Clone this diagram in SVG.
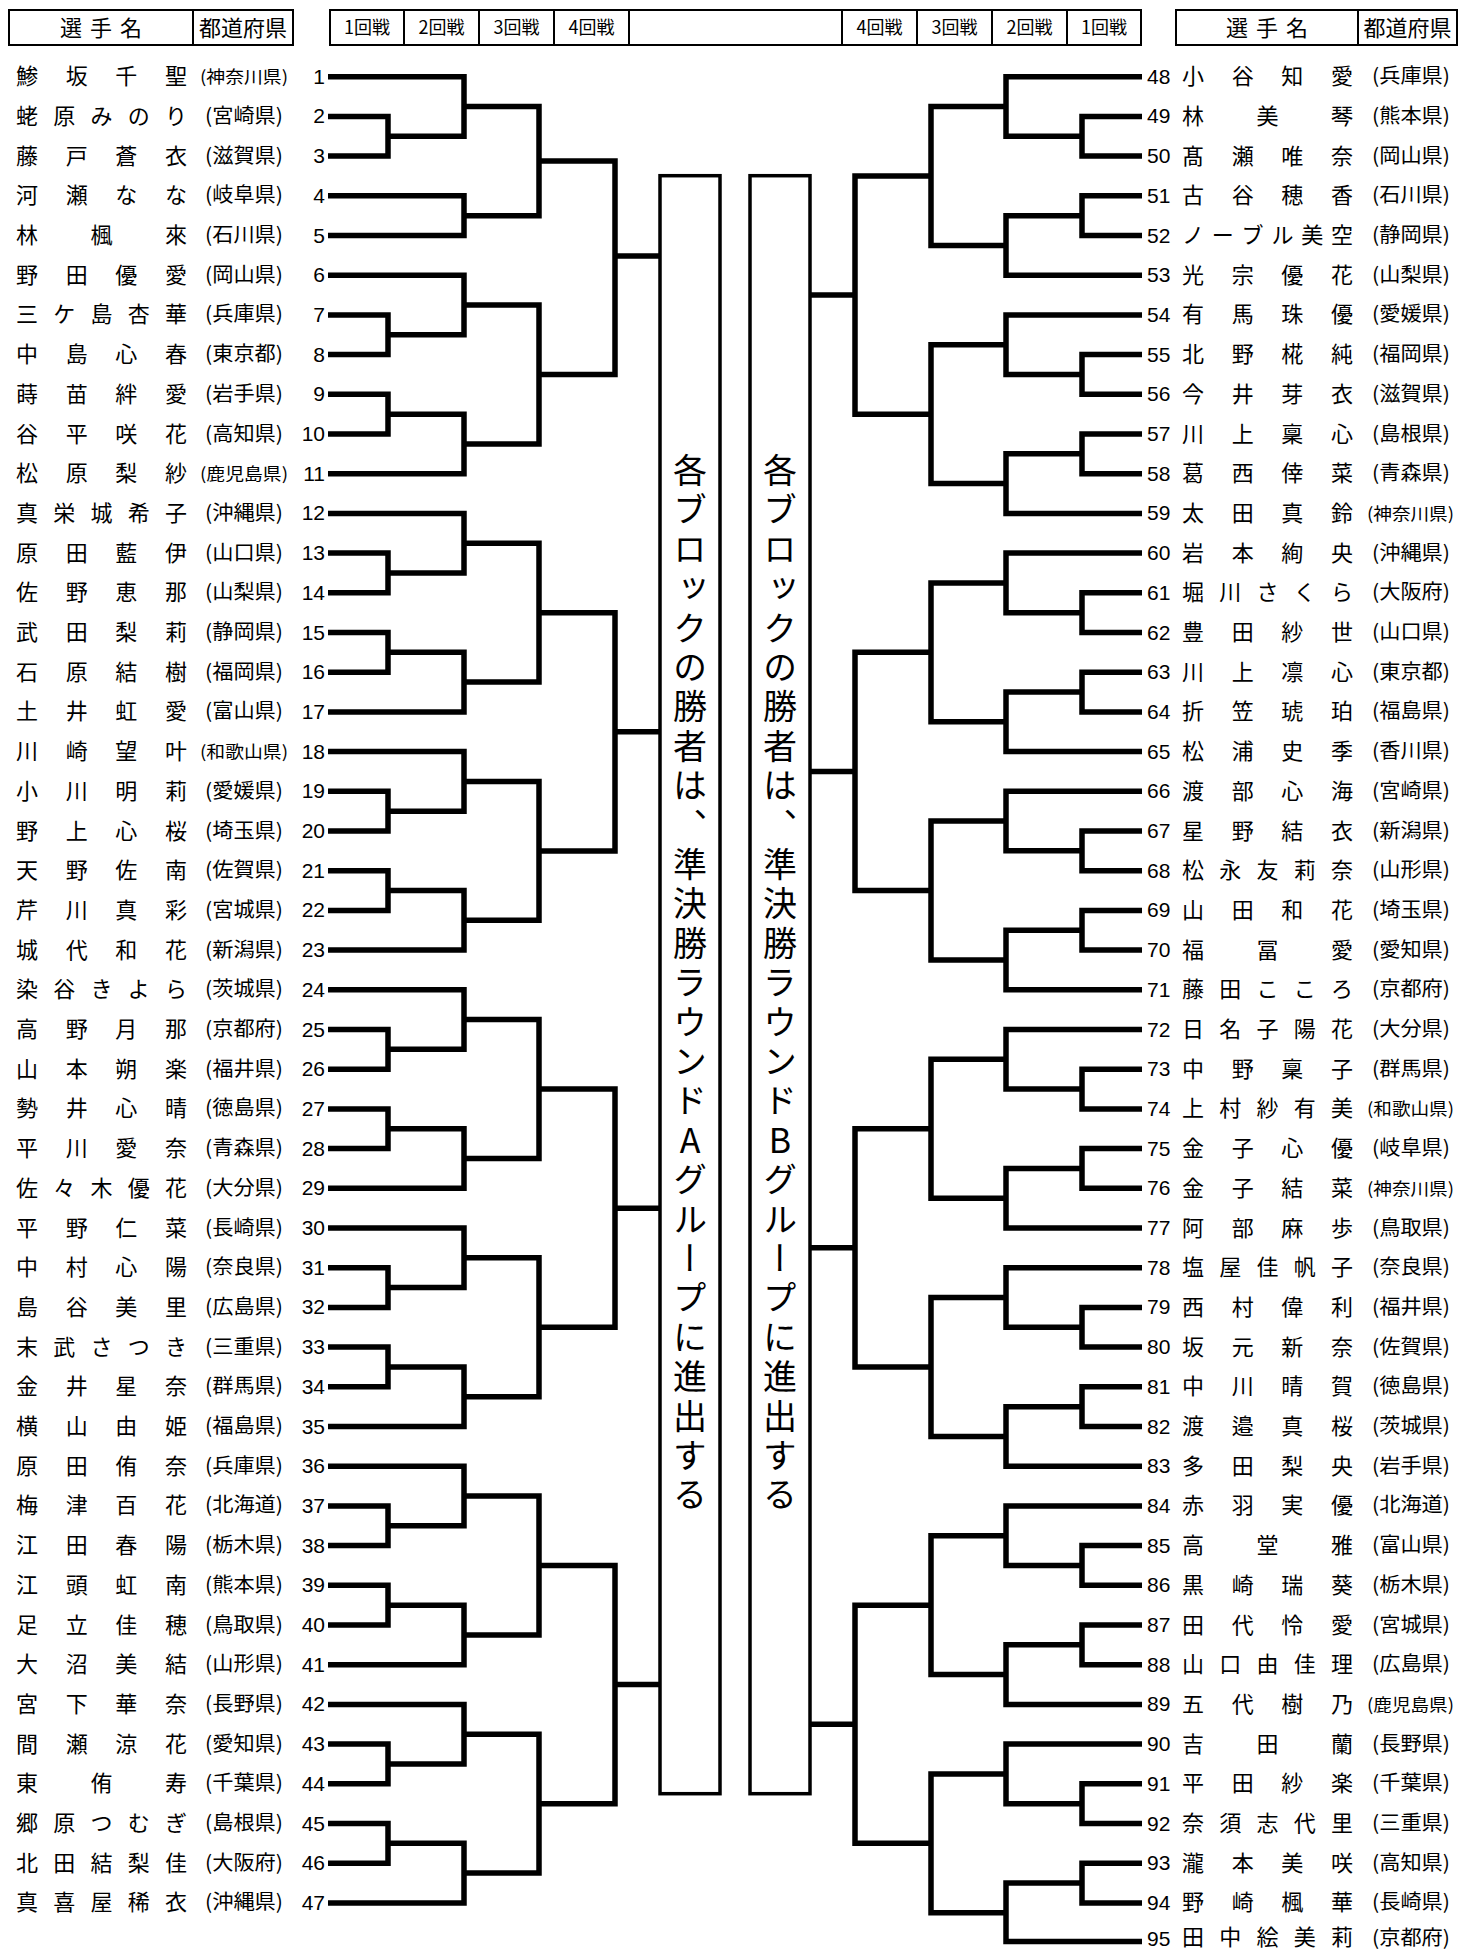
<svg xmlns="http://www.w3.org/2000/svg" width="1459" height="1952" viewBox="0 0 1459 1952">
<style>
.bg{fill:#fff}
.hd{fill:none;stroke:#000;stroke-width:2}
.ht{font-family:"Noto Sans CJK JP",sans-serif;font-size:22px;text-anchor:middle}
.rt{font-family:"Noto Sans CJK JP",sans-serif;font-size:18px;text-anchor:middle}
.ln{fill:none;stroke:#000;stroke-width:5.5;stroke-linejoin:miter}
.bx{fill:#fff;stroke:#000;stroke-width:3.5}
.vt{font-family:"Noto Sans CJK JP",sans-serif;font-size:34px;writing-mode:vertical-rl;text-orientation:upright;letter-spacing:5.4px}
.nm{font-family:"Noto Sans CJK JP",sans-serif;font-size:22px;text-anchor:middle}
.pf{font-family:"Noto Sans CJK JP",sans-serif;font-size:20px}
.s{font-size:17px}
.nl,.nr{font-family:"Liberation Sans",sans-serif;font-size:21px}
.nl{text-anchor:end}
</style>
<rect class="bg" x="0" y="0" width="1459" height="1952"/>
<g id="header">
<rect class="hd" x="9" y="10" width="284" height="35"/>
<line class="hd" x1="193" y1="10" x2="193" y2="45"/>
<text class="ht" x="71 101 131" y="35.5">選手名</text>
<text class="ht" x="243" y="35.5">都道府県</text>
<rect class="hd" x="330" y="10" width="811" height="35"/>
<line class="hd" x1="404" y1="10" x2="404" y2="45"/>
<line class="hd" x1="479" y1="10" x2="479" y2="45"/>
<line class="hd" x1="554" y1="10" x2="554" y2="45"/>
<line class="hd" x1="629" y1="10" x2="629" y2="45"/>
<line class="hd" x1="842" y1="10" x2="842" y2="45"/>
<line class="hd" x1="917" y1="10" x2="917" y2="45"/>
<line class="hd" x1="992" y1="10" x2="992" y2="45"/>
<line class="hd" x1="1067" y1="10" x2="1067" y2="45"/>
<text class="rt" x="367" y="34">1回戦</text>
<text class="rt" x="441.5" y="34">2回戦</text>
<text class="rt" x="516.5" y="34">3回戦</text>
<text class="rt" x="591.5" y="34">4回戦</text>
<text class="rt" x="879.5" y="34">4回戦</text>
<text class="rt" x="954.5" y="34">3回戦</text>
<text class="rt" x="1029.5" y="34">2回戦</text>
<text class="rt" x="1104" y="34">1回戦</text>
<rect class="hd" x="1176" y="10" width="281" height="35"/>
<line class="hd" x1="1358" y1="10" x2="1358" y2="45"/>
<text class="ht" x="1237 1267 1297" y="35.5">選手名</text>
<text class="ht" x="1407.5" y="35.5">都道府県</text>
</g>
<g id="connectors">
<path class="ln" d="M328 76.7H464V136.25H388M328 116.4H388V156.1H328M464 106.5H539V215.65H464M328 195.8H464V235.5H328M539 161.1H615V374.5H539M328 275.2H464V334.75H388M328 314.9H388V354.6H328M464 305H539V443.9H464M328 394.3H388V434H328M388 414.15H464V473.7H328M615 256H660"/>
<path class="ln" d="M328 513.4H464V572.95H388M328 553.1H388V592.8H328M464 543.2H539V682.1H464M328 632.5H388V672.2H328M388 652.35H464V711.9H328M539 612.65H615V850.9H539M328 751.6H464V811.15H388M328 791.3H388V831H328M464 781.4H539V920.3H464M328 870.7H388V910.4H328M388 890.55H464V950.1H328M615 731.8H660"/>
<path class="ln" d="M328 989.8H464V1049.35H388M328 1029.5H388V1069.2H328M464 1019.6H539V1158.5H464M328 1108.9H388V1148.6H328M388 1128.75H464V1188.3H328M539 1089.1H615V1327.3H539M328 1228H464V1287.55H388M328 1267.7H388V1307.4H328M464 1257.8H539V1396.7H464M328 1347.1H388V1386.8H328M388 1366.95H464V1426.5H328M615 1208.2H660"/>
<path class="ln" d="M328 1466.2H464V1525.75H388M328 1505.9H388V1545.6H328M464 1496H539V1634.9H464M328 1585.3H388V1625H328M388 1605.15H464V1664.7H328M539 1565.5H615V1803.7H539M328 1704.4H464V1763.95H388M328 1744.1H388V1783.8H328M464 1734.2H539V1873.1H464M328 1823.5H388V1863.2H328M388 1843.35H464V1902.9H328M615 1684.6H660"/>
<path class="ln" d="M1142 76.7H1006V136.25H1082M1142 116.4H1082V156.1H1142M1006 106.5H931V245.4H1006M1142 195.8H1082V235.5H1142M1082 215.65H1006V275.2H1142M931 175.95H855V414.15H931M1142 314.9H1006V374.45H1082M1142 354.6H1082V394.3H1142M1006 344.7H931V483.6H1006M1142 434H1082V473.7H1142M1082 453.85H1006V513.4H1142M855 295.05H810"/>
<path class="ln" d="M1142 553.1H1006V612.65H1082M1142 592.8H1082V632.5H1142M1006 582.9H931V721.8H1006M1142 672.2H1082V711.9H1142M1082 692.05H1006V751.6H1142M931 652.35H855V890.55H931M1142 791.3H1006V850.85H1082M1142 831H1082V870.7H1142M1006 821.1H931V960H1006M1142 910.4H1082V950.1H1142M1082 930.25H1006V989.8H1142M855 771.45H810"/>
<path class="ln" d="M1142 1029.5H1006V1089.05H1082M1142 1069.2H1082V1108.9H1142M1006 1059.3H931V1198.2H1006M1142 1148.6H1082V1188.3H1142M1082 1168.45H1006V1228H1142M931 1128.75H855V1366.95H931M1142 1267.7H1006V1327.25H1082M1142 1307.4H1082V1347.1H1142M1006 1297.5H931V1436.4H1006M1142 1386.8H1082V1426.5H1142M1082 1406.65H1006V1466.2H1142M855 1247.85H810"/>
<path class="ln" d="M1142 1505.9H1006V1565.45H1082M1142 1545.6H1082V1585.3H1142M1006 1535.7H931V1674.6H1006M1142 1625H1082V1664.7H1142M1082 1644.85H1006V1704.4H1142M931 1605.15H855V1843.35H931M1142 1744.1H1006V1803.65H1082M1142 1783.8H1082V1823.5H1142M1006 1773.9H931V1912.8H1006M1142 1863.2H1082V1902.9H1142M1082 1883.05H1006V1941.5H1142M855 1724.25H810"/>
</g>
<g id="groupA">
<rect class="bx" x="660" y="175.7" width="60" height="1618"/>
<text class="vt" x="690" y="453">各ブロックの勝者は、準決勝ラウンドAグループに進出する</text>
</g>
<g id="groupB">
<rect class="bx" x="750" y="175.7" width="60" height="1618"/>
<text class="vt" x="780" y="453">各ブロックの勝者は、準決勝ラウンドBグループに進出する</text>
</g>
<g id="p1" transform="translate(0 76.7)"><text class="nm" x="27 76.7 126.3 176" y="7.5">鯵坂千聖</text><text class="pf s" x="200" y="6.5" textLength="88" lengthAdjust="spacingAndGlyphs">(神奈川県)</text><text class="nl" x="325" y="7">1</text></g>
<g id="p2" transform="translate(0 116.4)"><text class="nm" x="27 64.25 101.5 138.75 176" y="7.5">蛯原みのり</text><text class="pf" x="205" y="6.5" textLength="78" lengthAdjust="spacingAndGlyphs">(宮崎県)</text><text class="nl" x="325" y="7">2</text></g>
<g id="p3" transform="translate(0 156.1)"><text class="nm" x="27 76.7 126.3 176" y="7.5">藤戸蒼衣</text><text class="pf" x="205" y="6.5" textLength="78" lengthAdjust="spacingAndGlyphs">(滋賀県)</text><text class="nl" x="325" y="7">3</text></g>
<g id="p4" transform="translate(0 195.8)"><text class="nm" x="27 76.7 126.3 176" y="7.5">河瀬なな</text><text class="pf" x="205" y="6.5" textLength="78" lengthAdjust="spacingAndGlyphs">(岐阜県)</text><text class="nl" x="325" y="7">4</text></g>
<g id="p5" transform="translate(0 235.5)"><text class="nm" x="27 101.5 176" y="7.5">林楓來</text><text class="pf" x="205" y="6.5" textLength="78" lengthAdjust="spacingAndGlyphs">(石川県)</text><text class="nl" x="325" y="7">5</text></g>
<g id="p6" transform="translate(0 275.2)"><text class="nm" x="27 76.7 126.3 176" y="7.5">野田優愛</text><text class="pf" x="205" y="6.5" textLength="78" lengthAdjust="spacingAndGlyphs">(岡山県)</text><text class="nl" x="325" y="7">6</text></g>
<g id="p7" transform="translate(0 314.9)"><text class="nm" x="27 64.25 101.5 138.75 176" y="7.5">三ケ島杏華</text><text class="pf" x="205" y="6.5" textLength="78" lengthAdjust="spacingAndGlyphs">(兵庫県)</text><text class="nl" x="325" y="7">7</text></g>
<g id="p8" transform="translate(0 354.6)"><text class="nm" x="27 76.7 126.3 176" y="7.5">中島心春</text><text class="pf" x="205" y="6.5" textLength="78" lengthAdjust="spacingAndGlyphs">(東京都)</text><text class="nl" x="325" y="7">8</text></g>
<g id="p9" transform="translate(0 394.3)"><text class="nm" x="27 76.7 126.3 176" y="7.5">蒔苗絆愛</text><text class="pf" x="205" y="6.5" textLength="78" lengthAdjust="spacingAndGlyphs">(岩手県)</text><text class="nl" x="325" y="7">9</text></g>
<g id="p10" transform="translate(0 434)"><text class="nm" x="27 76.7 126.3 176" y="7.5">谷平咲花</text><text class="pf" x="205" y="6.5" textLength="78" lengthAdjust="spacingAndGlyphs">(高知県)</text><text class="nl" x="325" y="7">10</text></g>
<g id="p11" transform="translate(0 473.7)"><text class="nm" x="27 76.7 126.3 176" y="7.5">松原梨紗</text><text class="pf s" x="200" y="6.5" textLength="88" lengthAdjust="spacingAndGlyphs">(鹿児島県)</text><text class="nl" x="325" y="7">11</text></g>
<g id="p12" transform="translate(0 513.4)"><text class="nm" x="27 64.25 101.5 138.75 176" y="7.5">真栄城希子</text><text class="pf" x="205" y="6.5" textLength="78" lengthAdjust="spacingAndGlyphs">(沖縄県)</text><text class="nl" x="325" y="7">12</text></g>
<g id="p13" transform="translate(0 553.1)"><text class="nm" x="27 76.7 126.3 176" y="7.5">原田藍伊</text><text class="pf" x="205" y="6.5" textLength="78" lengthAdjust="spacingAndGlyphs">(山口県)</text><text class="nl" x="325" y="7">13</text></g>
<g id="p14" transform="translate(0 592.8)"><text class="nm" x="27 76.7 126.3 176" y="7.5">佐野恵那</text><text class="pf" x="205" y="6.5" textLength="78" lengthAdjust="spacingAndGlyphs">(山梨県)</text><text class="nl" x="325" y="7">14</text></g>
<g id="p15" transform="translate(0 632.5)"><text class="nm" x="27 76.7 126.3 176" y="7.5">武田梨莉</text><text class="pf" x="205" y="6.5" textLength="78" lengthAdjust="spacingAndGlyphs">(静岡県)</text><text class="nl" x="325" y="7">15</text></g>
<g id="p16" transform="translate(0 672.2)"><text class="nm" x="27 76.7 126.3 176" y="7.5">石原結樹</text><text class="pf" x="205" y="6.5" textLength="78" lengthAdjust="spacingAndGlyphs">(福岡県)</text><text class="nl" x="325" y="7">16</text></g>
<g id="p17" transform="translate(0 711.9)"><text class="nm" x="27 76.7 126.3 176" y="7.5">土井虹愛</text><text class="pf" x="205" y="6.5" textLength="78" lengthAdjust="spacingAndGlyphs">(富山県)</text><text class="nl" x="325" y="7">17</text></g>
<g id="p18" transform="translate(0 751.6)"><text class="nm" x="27 76.7 126.3 176" y="7.5">川崎望叶</text><text class="pf s" x="200" y="6.5" textLength="88" lengthAdjust="spacingAndGlyphs">(和歌山県)</text><text class="nl" x="325" y="7">18</text></g>
<g id="p19" transform="translate(0 791.3)"><text class="nm" x="27 76.7 126.3 176" y="7.5">小川明莉</text><text class="pf" x="205" y="6.5" textLength="78" lengthAdjust="spacingAndGlyphs">(愛媛県)</text><text class="nl" x="325" y="7">19</text></g>
<g id="p20" transform="translate(0 831)"><text class="nm" x="27 76.7 126.3 176" y="7.5">野上心桜</text><text class="pf" x="205" y="6.5" textLength="78" lengthAdjust="spacingAndGlyphs">(埼玉県)</text><text class="nl" x="325" y="7">20</text></g>
<g id="p21" transform="translate(0 870.7)"><text class="nm" x="27 76.7 126.3 176" y="7.5">天野佐南</text><text class="pf" x="205" y="6.5" textLength="78" lengthAdjust="spacingAndGlyphs">(佐賀県)</text><text class="nl" x="325" y="7">21</text></g>
<g id="p22" transform="translate(0 910.4)"><text class="nm" x="27 76.7 126.3 176" y="7.5">芹川真彩</text><text class="pf" x="205" y="6.5" textLength="78" lengthAdjust="spacingAndGlyphs">(宮城県)</text><text class="nl" x="325" y="7">22</text></g>
<g id="p23" transform="translate(0 950.1)"><text class="nm" x="27 76.7 126.3 176" y="7.5">城代和花</text><text class="pf" x="205" y="6.5" textLength="78" lengthAdjust="spacingAndGlyphs">(新潟県)</text><text class="nl" x="325" y="7">23</text></g>
<g id="p24" transform="translate(0 989.8)"><text class="nm" x="27 64.25 101.5 138.75 176" y="7.5">染谷きよら</text><text class="pf" x="205" y="6.5" textLength="78" lengthAdjust="spacingAndGlyphs">(茨城県)</text><text class="nl" x="325" y="7">24</text></g>
<g id="p25" transform="translate(0 1029.5)"><text class="nm" x="27 76.7 126.3 176" y="7.5">高野月那</text><text class="pf" x="205" y="6.5" textLength="78" lengthAdjust="spacingAndGlyphs">(京都府)</text><text class="nl" x="325" y="7">25</text></g>
<g id="p26" transform="translate(0 1069.2)"><text class="nm" x="27 76.7 126.3 176" y="7.5">山本朔楽</text><text class="pf" x="205" y="6.5" textLength="78" lengthAdjust="spacingAndGlyphs">(福井県)</text><text class="nl" x="325" y="7">26</text></g>
<g id="p27" transform="translate(0 1108.9)"><text class="nm" x="27 76.7 126.3 176" y="7.5">勢井心晴</text><text class="pf" x="205" y="6.5" textLength="78" lengthAdjust="spacingAndGlyphs">(徳島県)</text><text class="nl" x="325" y="7">27</text></g>
<g id="p28" transform="translate(0 1148.6)"><text class="nm" x="27 76.7 126.3 176" y="7.5">平川愛奈</text><text class="pf" x="205" y="6.5" textLength="78" lengthAdjust="spacingAndGlyphs">(青森県)</text><text class="nl" x="325" y="7">28</text></g>
<g id="p29" transform="translate(0 1188.3)"><text class="nm" x="27 64.25 101.5 138.75 176" y="7.5">佐々木優花</text><text class="pf" x="205" y="6.5" textLength="78" lengthAdjust="spacingAndGlyphs">(大分県)</text><text class="nl" x="325" y="7">29</text></g>
<g id="p30" transform="translate(0 1228)"><text class="nm" x="27 76.7 126.3 176" y="7.5">平野仁菜</text><text class="pf" x="205" y="6.5" textLength="78" lengthAdjust="spacingAndGlyphs">(長崎県)</text><text class="nl" x="325" y="7">30</text></g>
<g id="p31" transform="translate(0 1267.7)"><text class="nm" x="27 76.7 126.3 176" y="7.5">中村心陽</text><text class="pf" x="205" y="6.5" textLength="78" lengthAdjust="spacingAndGlyphs">(奈良県)</text><text class="nl" x="325" y="7">31</text></g>
<g id="p32" transform="translate(0 1307.4)"><text class="nm" x="27 76.7 126.3 176" y="7.5">島谷美里</text><text class="pf" x="205" y="6.5" textLength="78" lengthAdjust="spacingAndGlyphs">(広島県)</text><text class="nl" x="325" y="7">32</text></g>
<g id="p33" transform="translate(0 1347.1)"><text class="nm" x="27 64.25 101.5 138.75 176" y="7.5">末武さつき</text><text class="pf" x="205" y="6.5" textLength="78" lengthAdjust="spacingAndGlyphs">(三重県)</text><text class="nl" x="325" y="7">33</text></g>
<g id="p34" transform="translate(0 1386.8)"><text class="nm" x="27 76.7 126.3 176" y="7.5">金井星奈</text><text class="pf" x="205" y="6.5" textLength="78" lengthAdjust="spacingAndGlyphs">(群馬県)</text><text class="nl" x="325" y="7">34</text></g>
<g id="p35" transform="translate(0 1426.5)"><text class="nm" x="27 76.7 126.3 176" y="7.5">横山由姫</text><text class="pf" x="205" y="6.5" textLength="78" lengthAdjust="spacingAndGlyphs">(福島県)</text><text class="nl" x="325" y="7">35</text></g>
<g id="p36" transform="translate(0 1466.2)"><text class="nm" x="27 76.7 126.3 176" y="7.5">原田侑奈</text><text class="pf" x="205" y="6.5" textLength="78" lengthAdjust="spacingAndGlyphs">(兵庫県)</text><text class="nl" x="325" y="7">36</text></g>
<g id="p37" transform="translate(0 1505.9)"><text class="nm" x="27 76.7 126.3 176" y="7.5">梅津百花</text><text class="pf" x="205" y="6.5" textLength="78" lengthAdjust="spacingAndGlyphs">(北海道)</text><text class="nl" x="325" y="7">37</text></g>
<g id="p38" transform="translate(0 1545.6)"><text class="nm" x="27 76.7 126.3 176" y="7.5">江田春陽</text><text class="pf" x="205" y="6.5" textLength="78" lengthAdjust="spacingAndGlyphs">(栃木県)</text><text class="nl" x="325" y="7">38</text></g>
<g id="p39" transform="translate(0 1585.3)"><text class="nm" x="27 76.7 126.3 176" y="7.5">江頭虹南</text><text class="pf" x="205" y="6.5" textLength="78" lengthAdjust="spacingAndGlyphs">(熊本県)</text><text class="nl" x="325" y="7">39</text></g>
<g id="p40" transform="translate(0 1625)"><text class="nm" x="27 76.7 126.3 176" y="7.5">足立佳穂</text><text class="pf" x="205" y="6.5" textLength="78" lengthAdjust="spacingAndGlyphs">(鳥取県)</text><text class="nl" x="325" y="7">40</text></g>
<g id="p41" transform="translate(0 1664.7)"><text class="nm" x="27 76.7 126.3 176" y="7.5">大沼美結</text><text class="pf" x="205" y="6.5" textLength="78" lengthAdjust="spacingAndGlyphs">(山形県)</text><text class="nl" x="325" y="7">41</text></g>
<g id="p42" transform="translate(0 1704.4)"><text class="nm" x="27 76.7 126.3 176" y="7.5">宮下華奈</text><text class="pf" x="205" y="6.5" textLength="78" lengthAdjust="spacingAndGlyphs">(長野県)</text><text class="nl" x="325" y="7">42</text></g>
<g id="p43" transform="translate(0 1744.1)"><text class="nm" x="27 76.7 126.3 176" y="7.5">間瀬涼花</text><text class="pf" x="205" y="6.5" textLength="78" lengthAdjust="spacingAndGlyphs">(愛知県)</text><text class="nl" x="325" y="7">43</text></g>
<g id="p44" transform="translate(0 1783.8)"><text class="nm" x="27 101.5 176" y="7.5">東侑寿</text><text class="pf" x="205" y="6.5" textLength="78" lengthAdjust="spacingAndGlyphs">(千葉県)</text><text class="nl" x="325" y="7">44</text></g>
<g id="p45" transform="translate(0 1823.5)"><text class="nm" x="27 64.25 101.5 138.75 176" y="7.5">郷原つむぎ</text><text class="pf" x="205" y="6.5" textLength="78" lengthAdjust="spacingAndGlyphs">(島根県)</text><text class="nl" x="325" y="7">45</text></g>
<g id="p46" transform="translate(0 1863.2)"><text class="nm" x="27 64.25 101.5 138.75 176" y="7.5">北田結梨佳</text><text class="pf" x="205" y="6.5" textLength="78" lengthAdjust="spacingAndGlyphs">(大阪府)</text><text class="nl" x="325" y="7">46</text></g>
<g id="p47" transform="translate(0 1902.9)"><text class="nm" x="27 64.25 101.5 138.75 176" y="7.5">真喜屋稀衣</text><text class="pf" x="205" y="6.5" textLength="78" lengthAdjust="spacingAndGlyphs">(沖縄県)</text><text class="nl" x="325" y="7">47</text></g>
<g id="p48" transform="translate(0 76.7)"><text class="nr" x="1147" y="7">48</text><text class="nm" x="1193 1242.7 1292.3 1342" y="7.5">小谷知愛</text><text class="pf" x="1372" y="6.5" textLength="78" lengthAdjust="spacingAndGlyphs">(兵庫県)</text></g>
<g id="p49" transform="translate(0 116.4)"><text class="nr" x="1147" y="7">49</text><text class="nm" x="1193 1267.5 1342" y="7.5">林美琴</text><text class="pf" x="1372" y="6.5" textLength="78" lengthAdjust="spacingAndGlyphs">(熊本県)</text></g>
<g id="p50" transform="translate(0 156.1)"><text class="nr" x="1147" y="7">50</text><text class="nm" x="1193 1242.7 1292.3 1342" y="7.5">髙瀬唯奈</text><text class="pf" x="1372" y="6.5" textLength="78" lengthAdjust="spacingAndGlyphs">(岡山県)</text></g>
<g id="p51" transform="translate(0 195.8)"><text class="nr" x="1147" y="7">51</text><text class="nm" x="1193 1242.7 1292.3 1342" y="7.5">古谷穂香</text><text class="pf" x="1372" y="6.5" textLength="78" lengthAdjust="spacingAndGlyphs">(石川県)</text></g>
<g id="p52" transform="translate(0 235.5)"><text class="nr" x="1147" y="7">52</text><text class="nm" x="1193 1222.8 1252.6 1282.4 1312.2 1342" y="7.5">ノーブル美空</text><text class="pf" x="1372" y="6.5" textLength="78" lengthAdjust="spacingAndGlyphs">(静岡県)</text></g>
<g id="p53" transform="translate(0 275.2)"><text class="nr" x="1147" y="7">53</text><text class="nm" x="1193 1242.7 1292.3 1342" y="7.5">光宗優花</text><text class="pf" x="1372" y="6.5" textLength="78" lengthAdjust="spacingAndGlyphs">(山梨県)</text></g>
<g id="p54" transform="translate(0 314.9)"><text class="nr" x="1147" y="7">54</text><text class="nm" x="1193 1242.7 1292.3 1342" y="7.5">有馬珠優</text><text class="pf" x="1372" y="6.5" textLength="78" lengthAdjust="spacingAndGlyphs">(愛媛県)</text></g>
<g id="p55" transform="translate(0 354.6)"><text class="nr" x="1147" y="7">55</text><text class="nm" x="1193 1242.7 1292.3 1342" y="7.5">北野椛純</text><text class="pf" x="1372" y="6.5" textLength="78" lengthAdjust="spacingAndGlyphs">(福岡県)</text></g>
<g id="p56" transform="translate(0 394.3)"><text class="nr" x="1147" y="7">56</text><text class="nm" x="1193 1242.7 1292.3 1342" y="7.5">今井芽衣</text><text class="pf" x="1372" y="6.5" textLength="78" lengthAdjust="spacingAndGlyphs">(滋賀県)</text></g>
<g id="p57" transform="translate(0 434)"><text class="nr" x="1147" y="7">57</text><text class="nm" x="1193 1242.7 1292.3 1342" y="7.5">川上稟心</text><text class="pf" x="1372" y="6.5" textLength="78" lengthAdjust="spacingAndGlyphs">(島根県)</text></g>
<g id="p58" transform="translate(0 473.7)"><text class="nr" x="1147" y="7">58</text><text class="nm" x="1193 1242.7 1292.3 1342" y="7.5">葛西倖菜</text><text class="pf" x="1372" y="6.5" textLength="78" lengthAdjust="spacingAndGlyphs">(青森県)</text></g>
<g id="p59" transform="translate(0 513.4)"><text class="nr" x="1147" y="7">59</text><text class="nm" x="1193 1242.7 1292.3 1342" y="7.5">太田真鈴</text><text class="pf s" x="1367" y="6.5" textLength="87" lengthAdjust="spacingAndGlyphs">(神奈川県)</text></g>
<g id="p60" transform="translate(0 553.1)"><text class="nr" x="1147" y="7">60</text><text class="nm" x="1193 1242.7 1292.3 1342" y="7.5">岩本絢央</text><text class="pf" x="1372" y="6.5" textLength="78" lengthAdjust="spacingAndGlyphs">(沖縄県)</text></g>
<g id="p61" transform="translate(0 592.8)"><text class="nr" x="1147" y="7">61</text><text class="nm" x="1193 1230.25 1267.5 1304.75 1342" y="7.5">堀川さくら</text><text class="pf" x="1372" y="6.5" textLength="78" lengthAdjust="spacingAndGlyphs">(大阪府)</text></g>
<g id="p62" transform="translate(0 632.5)"><text class="nr" x="1147" y="7">62</text><text class="nm" x="1193 1242.7 1292.3 1342" y="7.5">豊田紗世</text><text class="pf" x="1372" y="6.5" textLength="78" lengthAdjust="spacingAndGlyphs">(山口県)</text></g>
<g id="p63" transform="translate(0 672.2)"><text class="nr" x="1147" y="7">63</text><text class="nm" x="1193 1242.7 1292.3 1342" y="7.5">川上凛心</text><text class="pf" x="1372" y="6.5" textLength="78" lengthAdjust="spacingAndGlyphs">(東京都)</text></g>
<g id="p64" transform="translate(0 711.9)"><text class="nr" x="1147" y="7">64</text><text class="nm" x="1193 1242.7 1292.3 1342" y="7.5">折笠琥珀</text><text class="pf" x="1372" y="6.5" textLength="78" lengthAdjust="spacingAndGlyphs">(福島県)</text></g>
<g id="p65" transform="translate(0 751.6)"><text class="nr" x="1147" y="7">65</text><text class="nm" x="1193 1242.7 1292.3 1342" y="7.5">松浦史季</text><text class="pf" x="1372" y="6.5" textLength="78" lengthAdjust="spacingAndGlyphs">(香川県)</text></g>
<g id="p66" transform="translate(0 791.3)"><text class="nr" x="1147" y="7">66</text><text class="nm" x="1193 1242.7 1292.3 1342" y="7.5">渡部心海</text><text class="pf" x="1372" y="6.5" textLength="78" lengthAdjust="spacingAndGlyphs">(宮崎県)</text></g>
<g id="p67" transform="translate(0 831)"><text class="nr" x="1147" y="7">67</text><text class="nm" x="1193 1242.7 1292.3 1342" y="7.5">星野結衣</text><text class="pf" x="1372" y="6.5" textLength="78" lengthAdjust="spacingAndGlyphs">(新潟県)</text></g>
<g id="p68" transform="translate(0 870.7)"><text class="nr" x="1147" y="7">68</text><text class="nm" x="1193 1230.25 1267.5 1304.75 1342" y="7.5">松永友莉奈</text><text class="pf" x="1372" y="6.5" textLength="78" lengthAdjust="spacingAndGlyphs">(山形県)</text></g>
<g id="p69" transform="translate(0 910.4)"><text class="nr" x="1147" y="7">69</text><text class="nm" x="1193 1242.7 1292.3 1342" y="7.5">山田和花</text><text class="pf" x="1372" y="6.5" textLength="78" lengthAdjust="spacingAndGlyphs">(埼玉県)</text></g>
<g id="p70" transform="translate(0 950.1)"><text class="nr" x="1147" y="7">70</text><text class="nm" x="1193 1267.5 1342" y="7.5">福冨愛</text><text class="pf" x="1372" y="6.5" textLength="78" lengthAdjust="spacingAndGlyphs">(愛知県)</text></g>
<g id="p71" transform="translate(0 989.8)"><text class="nr" x="1147" y="7">71</text><text class="nm" x="1193 1230.25 1267.5 1304.75 1342" y="7.5">藤田こころ</text><text class="pf" x="1372" y="6.5" textLength="78" lengthAdjust="spacingAndGlyphs">(京都府)</text></g>
<g id="p72" transform="translate(0 1029.5)"><text class="nr" x="1147" y="7">72</text><text class="nm" x="1193 1230.25 1267.5 1304.75 1342" y="7.5">日名子陽花</text><text class="pf" x="1372" y="6.5" textLength="78" lengthAdjust="spacingAndGlyphs">(大分県)</text></g>
<g id="p73" transform="translate(0 1069.2)"><text class="nr" x="1147" y="7">73</text><text class="nm" x="1193 1242.7 1292.3 1342" y="7.5">中野稟子</text><text class="pf" x="1372" y="6.5" textLength="78" lengthAdjust="spacingAndGlyphs">(群馬県)</text></g>
<g id="p74" transform="translate(0 1108.9)"><text class="nr" x="1147" y="7">74</text><text class="nm" x="1193 1230.25 1267.5 1304.75 1342" y="7.5">上村紗有美</text><text class="pf s" x="1367" y="6.5" textLength="87" lengthAdjust="spacingAndGlyphs">(和歌山県)</text></g>
<g id="p75" transform="translate(0 1148.6)"><text class="nr" x="1147" y="7">75</text><text class="nm" x="1193 1242.7 1292.3 1342" y="7.5">金子心優</text><text class="pf" x="1372" y="6.5" textLength="78" lengthAdjust="spacingAndGlyphs">(岐阜県)</text></g>
<g id="p76" transform="translate(0 1188.3)"><text class="nr" x="1147" y="7">76</text><text class="nm" x="1193 1242.7 1292.3 1342" y="7.5">金子結菜</text><text class="pf s" x="1367" y="6.5" textLength="87" lengthAdjust="spacingAndGlyphs">(神奈川県)</text></g>
<g id="p77" transform="translate(0 1228)"><text class="nr" x="1147" y="7">77</text><text class="nm" x="1193 1242.7 1292.3 1342" y="7.5">阿部麻歩</text><text class="pf" x="1372" y="6.5" textLength="78" lengthAdjust="spacingAndGlyphs">(鳥取県)</text></g>
<g id="p78" transform="translate(0 1267.7)"><text class="nr" x="1147" y="7">78</text><text class="nm" x="1193 1230.25 1267.5 1304.75 1342" y="7.5">塩屋佳帆子</text><text class="pf" x="1372" y="6.5" textLength="78" lengthAdjust="spacingAndGlyphs">(奈良県)</text></g>
<g id="p79" transform="translate(0 1307.4)"><text class="nr" x="1147" y="7">79</text><text class="nm" x="1193 1242.7 1292.3 1342" y="7.5">西村偉利</text><text class="pf" x="1372" y="6.5" textLength="78" lengthAdjust="spacingAndGlyphs">(福井県)</text></g>
<g id="p80" transform="translate(0 1347.1)"><text class="nr" x="1147" y="7">80</text><text class="nm" x="1193 1242.7 1292.3 1342" y="7.5">坂元新奈</text><text class="pf" x="1372" y="6.5" textLength="78" lengthAdjust="spacingAndGlyphs">(佐賀県)</text></g>
<g id="p81" transform="translate(0 1386.8)"><text class="nr" x="1147" y="7">81</text><text class="nm" x="1193 1242.7 1292.3 1342" y="7.5">中川晴賀</text><text class="pf" x="1372" y="6.5" textLength="78" lengthAdjust="spacingAndGlyphs">(徳島県)</text></g>
<g id="p82" transform="translate(0 1426.5)"><text class="nr" x="1147" y="7">82</text><text class="nm" x="1193 1242.7 1292.3 1342" y="7.5">渡邉真桜</text><text class="pf" x="1372" y="6.5" textLength="78" lengthAdjust="spacingAndGlyphs">(茨城県)</text></g>
<g id="p83" transform="translate(0 1466.2)"><text class="nr" x="1147" y="7">83</text><text class="nm" x="1193 1242.7 1292.3 1342" y="7.5">多田梨央</text><text class="pf" x="1372" y="6.5" textLength="78" lengthAdjust="spacingAndGlyphs">(岩手県)</text></g>
<g id="p84" transform="translate(0 1505.9)"><text class="nr" x="1147" y="7">84</text><text class="nm" x="1193 1242.7 1292.3 1342" y="7.5">赤羽実優</text><text class="pf" x="1372" y="6.5" textLength="78" lengthAdjust="spacingAndGlyphs">(北海道)</text></g>
<g id="p85" transform="translate(0 1545.6)"><text class="nr" x="1147" y="7">85</text><text class="nm" x="1193 1267.5 1342" y="7.5">高堂雅</text><text class="pf" x="1372" y="6.5" textLength="78" lengthAdjust="spacingAndGlyphs">(富山県)</text></g>
<g id="p86" transform="translate(0 1585.3)"><text class="nr" x="1147" y="7">86</text><text class="nm" x="1193 1242.7 1292.3 1342" y="7.5">黒崎瑞葵</text><text class="pf" x="1372" y="6.5" textLength="78" lengthAdjust="spacingAndGlyphs">(栃木県)</text></g>
<g id="p87" transform="translate(0 1625)"><text class="nr" x="1147" y="7">87</text><text class="nm" x="1193 1242.7 1292.3 1342" y="7.5">田代怜愛</text><text class="pf" x="1372" y="6.5" textLength="78" lengthAdjust="spacingAndGlyphs">(宮城県)</text></g>
<g id="p88" transform="translate(0 1664.7)"><text class="nr" x="1147" y="7">88</text><text class="nm" x="1193 1230.25 1267.5 1304.75 1342" y="7.5">山口由佳理</text><text class="pf" x="1372" y="6.5" textLength="78" lengthAdjust="spacingAndGlyphs">(広島県)</text></g>
<g id="p89" transform="translate(0 1704.4)"><text class="nr" x="1147" y="7">89</text><text class="nm" x="1193 1242.7 1292.3 1342" y="7.5">五代樹乃</text><text class="pf s" x="1367" y="6.5" textLength="87" lengthAdjust="spacingAndGlyphs">(鹿児島県)</text></g>
<g id="p90" transform="translate(0 1744.1)"><text class="nr" x="1147" y="7">90</text><text class="nm" x="1193 1267.5 1342" y="7.5">吉田蘭</text><text class="pf" x="1372" y="6.5" textLength="78" lengthAdjust="spacingAndGlyphs">(長野県)</text></g>
<g id="p91" transform="translate(0 1783.8)"><text class="nr" x="1147" y="7">91</text><text class="nm" x="1193 1242.7 1292.3 1342" y="7.5">平田紗楽</text><text class="pf" x="1372" y="6.5" textLength="78" lengthAdjust="spacingAndGlyphs">(千葉県)</text></g>
<g id="p92" transform="translate(0 1823.5)"><text class="nr" x="1147" y="7">92</text><text class="nm" x="1193 1230.25 1267.5 1304.75 1342" y="7.5">奈須志代里</text><text class="pf" x="1372" y="6.5" textLength="78" lengthAdjust="spacingAndGlyphs">(三重県)</text></g>
<g id="p93" transform="translate(0 1863.2)"><text class="nr" x="1147" y="7">93</text><text class="nm" x="1193 1242.7 1292.3 1342" y="7.5">瀧本美咲</text><text class="pf" x="1372" y="6.5" textLength="78" lengthAdjust="spacingAndGlyphs">(高知県)</text></g>
<g id="p94" transform="translate(0 1902.9)"><text class="nr" x="1147" y="7">94</text><text class="nm" x="1193 1242.7 1292.3 1342" y="7.5">野崎楓華</text><text class="pf" x="1372" y="6.5" textLength="78" lengthAdjust="spacingAndGlyphs">(長崎県)</text></g>
<g id="p95" transform="translate(0 1941.5)"><text class="nr" x="1147" y="4">95</text><text class="nm" x="1193 1230.25 1267.5 1304.75 1342" y="3.5">田中絵美莉</text><text class="pf" x="1372" y="3" textLength="78" lengthAdjust="spacingAndGlyphs">(京都府)</text></g>
</svg>
